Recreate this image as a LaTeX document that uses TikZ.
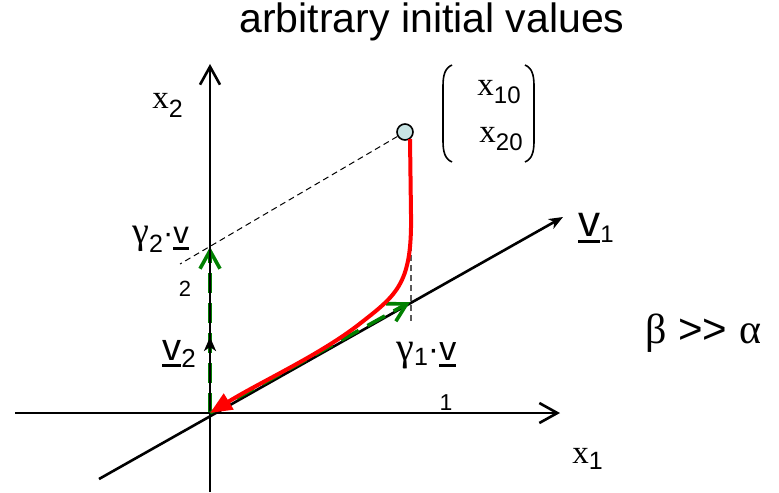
\documentclass[tikz,border=0pt]{standalone}
\usepackage{fontspec}
\setmainfont{Liberation Sans}
\newfontfamily\serif{Liberation Serif}
\usetikzlibrary{arrows.meta}
\definecolor{greenc}{RGB}{0,128,0}
\definecolor{circfill}{RGB}{200,228,228}
\newcommand\fs[1]{\fontsize{#1}{#1}\selectfont}
\newcommand\ulv[1]{\setbox0\hbox{#1}\rlap{\rule[-3.5pt]{\wd0}{1.4pt}}\box0}
\begin{document}
\begin{tikzpicture}[x=0.5pt,y=-0.5pt,
  axis/.style={line width=1.3pt},
  axisarrow/.style={-{Straight Barb[length=9pt,width=10pt]}},
  greenarrow/.style={draw=greenc, line width=1.8pt, dash pattern=on 10pt off 5pt,
     -{Straight Barb[length=9pt,width=10pt]}},
  redpath/.style={draw=red, line width=2pt, -{Triangle[length=11pt,width=9pt]}},
  thindash/.style={line width=0.5pt, dash pattern=on 3pt off 2pt},
  lbl/.style={inner sep=0pt, anchor=base west},
]
\useasboundingbox (0,0) rectangle (779,492);

% coordinates
\coordinate (O) at (210,413);
\coordinate (ybot) at (210,492);
\coordinate (ytop) at (210,64);
\coordinate (xleft) at (15,413);
\coordinate (xright) at (560,413);
\coordinate (vbot) at (99,479);
\coordinate (vtop) at (563,217);
\coordinate (g1) at (410,302);
\coordinate (g2) at (210,247);
\coordinate (d) at (180,264);
\coordinate (gtop) at (411,205);
\coordinate (gbot) at (411,323);
\coordinate (s0) at (210,354);
\coordinate (s1) at (210,337);

% green along y axis (under the axis)
\draw[greenarrow] (O) -- (g2);

% axes
\draw[axis,axisarrow] (ybot) -- (ytop);
\draw[axis,axisarrow] (xleft) -- (xright);
\draw[axis,-{Stealth[length=7pt,width=5.5pt,inset=2pt]}] (vbot) -- (vtop);
\draw[axis,-{Stealth[length=7pt,width=6pt,inset=2pt]}] (s0) -- (s1);

% dashed helper lines
\node[circle, draw, line width=0.8pt, fill=circfill, minimum size=8pt, inner sep=0pt] (c) at (405,132) {};
\draw[thindash] (c) -- (d);
\draw[thindash, draw=black!65, line width=0.8pt] (gtop) -- (gbot);

% green along v1
\draw[greenarrow] (O) -- (g1);

% red trajectory
\draw[redpath] (410,139) -- (411,215) .. controls (412,282) and (398,294) .. (362,322)
   .. controls (322,354) and (262,381) .. (O);

% parentheses
\draw[line width=0.8pt] (452,65) .. controls (445,68) and (443,75) .. (443,86) -- (443,141)
   .. controls (443,152) and (445,159) .. (452,162);
\draw[line width=0.8pt] (525,65) .. controls (532,68) and (534,75) .. (534,86) -- (534,141)
   .. controls (534,152) and (532,159) .. (525,162);

% labels
\node[lbl, anchor=base] (title) at (432,33) {\fs{20.5}arbitrary initial values};
\node[lbl] (lx2) at (152,108) {\fs{16.5}{\serif x}\raisebox{-4.5pt}{\fs{12.5}2}};
\node[lbl] (lx1) at (572,463) {\fs{16.5}{\serif x}\raisebox{-3pt}{\fs{12.5}1}};
\node[lbl] (lx10) at (477,95) {\fs{16.5}{\serif x}\raisebox{-4pt}{\fs{12}10}};
\node[lbl] (lx20) at (479,142) {\fs{16.5}{\serif x}\raisebox{-4pt}{\fs{12}20}};
\node[lbl] (lg2) at (132,243) {\fs{15.5}{\fs{19}\serif γ}\raisebox{-4.5pt}{\fs{12.5}2}·\ulv{v}};
\node[lbl] (lg1) at (396,360) {\fs{17}{\fs{20}\serif γ}\raisebox{-2.5pt}{\fs{12.5}1}·\ulv{v}};
\node[lbl] (lv2) at (162,360) {\fs{19}\ulv{v}\raisebox{-3.5pt}{\fs{13}2}};
\node[lbl] (lv1) at (578,236) {\fs{22}\ulv{v}\raisebox{-3pt}{\fs{12}1}};
\node[lbl, anchor=base] (l2) at (185,296) {\fs{11}2};
\node[lbl, anchor=base] (l1) at (446,410) {\fs{11.5}1};
\node[lbl] (lba) at (645,343) {\fs{21}{\serif β} {>}{>} {\serif α}};
\end{tikzpicture}
\end{document}
